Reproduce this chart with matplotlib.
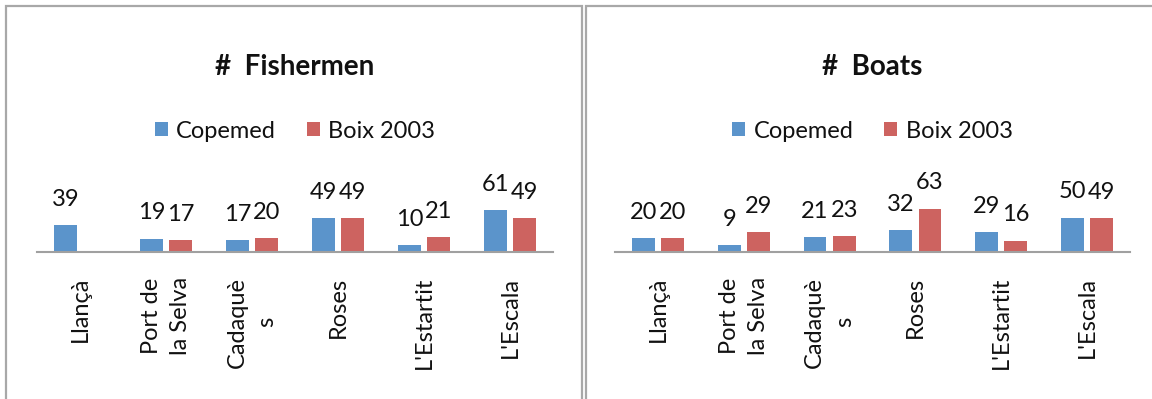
import numpy as np
import matplotlib
matplotlib.use("Agg")
import matplotlib.pyplot as plt
from matplotlib.patches import Rectangle

plt.rcParams['font.family'] = ['Lato', 'DejaVu Sans']

ports = ["Llançà", "Port de\nla Selva", "Cadaquè\ns", "Roses", "L'Estartit", "L'Escala"]
series_names = ["Copemed", "Boix 2003"]

fishermen_copemed = [39, 19, 17, 49, 10, 61]
fishermen_boix = [np.nan, 17, 20, 49, 21, 49]

boats_copemed = [20, 9, 21, 32, 29, 50]
boats_boix = [20, 29, 23, 63, 16, 49]

BLUE = "#5B94CB"
RED = "#CD6360"
AXIS_GRAY = "#A0A0A0"
FRAME_GRAY = "#A8A8A8"
TEXT = "#111111"
FS = 17

W, H = 1152, 399
fig = plt.figure(figsize=(W / 100, H / 100), dpi=100)
fig.patch.set_facecolor("white")

# panel frames
fig.add_artist(Rectangle((6 / W, -0.1), 576 / W, 1.1 - 6 / H, transform=fig.transFigure,
                         fill=False, edgecolor=FRAME_GRAY, linewidth=1.6))
fig.add_artist(Rectangle((585.5 / W, -0.1), 600 / W, 1.1 - 6 / H, transform=fig.transFigure,
                         fill=False, edgecolor=FRAME_GRAY, linewidth=1.6))

base_y = 251.5
top_y = 170.0
bottom = (H - base_y) / H
height = (base_y - top_y) / H
ymax = (base_y - top_y) / 0.68

panels = [
    ("#  Fishermen", fishermen_copemed, fishermen_boix, 37, 553),
    ("#  Boats", boats_copemed, boats_boix, 615, 1130),
]

x = np.arange(len(ports))
bw = 0.267
off = 0.17

for title, cop, boix, x0, x1 in panels:
    ax = fig.add_axes([x0 / W, bottom, (x1 - x0) / W, height])
    ax.set_xlim(-0.5, len(ports) - 0.5)
    ax.set_ylim(0, ymax)
    b1 = ax.bar(x - off, cop, bw, color=BLUE, label=series_names[0], zorder=2)
    b2 = ax.bar(x + off, boix, bw, color=RED, label=series_names[1], zorder=2)
    for xs, vals in ((x - off, cop), (x + off, boix)):
        for xi, v in zip(xs, vals):
            if np.isnan(v):
                continue
            ax.annotate(f"{int(v)}", (xi, v), xytext=(0, 18.5), textcoords="offset points",
                        ha="center", va="center", fontsize=FS, color=TEXT,
                        annotation_clip=False)
    for s in ("top", "left", "right"):
        ax.spines[s].set_visible(False)
    ax.spines["bottom"].set_color(AXIS_GRAY)
    ax.spines["bottom"].set_linewidth(1.5)
    ax.set_yticks([])
    ax.set_xticks(x)
    ax.set_xticklabels(ports, rotation=90, fontsize=FS, color=TEXT,
                       ha="center", va="top", multialignment="center", linespacing=1.5)
    ax.tick_params(axis="x", length=0, pad=18)
    ax.patch.set_alpha(0)

    cx = (x0 + x1) / 2 / W
    fig.text(cx, 1 - 67 / H, title, ha="center", va="center", fontsize=20,
             fontweight="bold", color=TEXT)
    fig.legend(handles=[b1, b2], loc="center", bbox_to_anchor=(cx, 1 - 131 / H),
               ncol=2, frameon=False, fontsize=FS, handlelength=0.55, handleheight=0.55,
               handletextpad=0.35, columnspacing=1.3, labelcolor=TEXT,
               borderpad=0, borderaxespad=0)

fig.savefig("out.png", dpi=100, facecolor="white")
